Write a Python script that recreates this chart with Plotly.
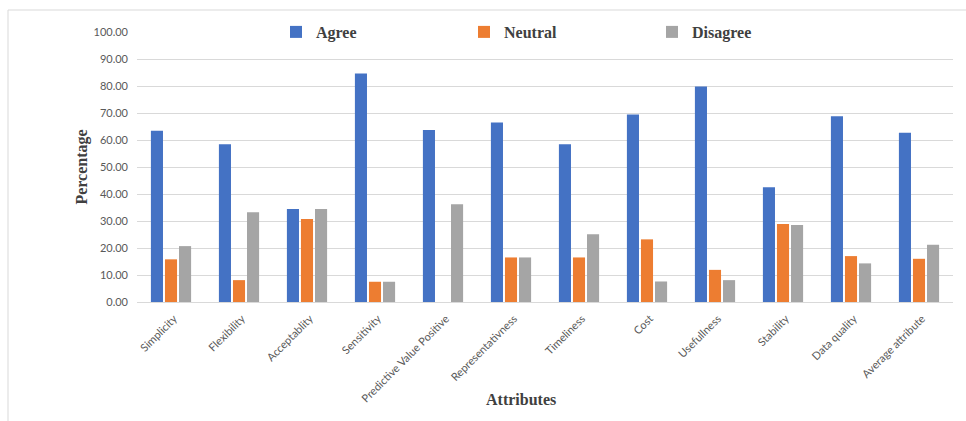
import plotly.graph_objects as go

categories = ["Simplicity", "Flexibility", "Acceptablity", "Sensitivity",
              "Predictive Value Positive", "Representativness", "Timeliness",
              "Cost", "Usefullness", "Stability", "Data quality", "Average attribute"]
agree = [63.4, 58.4, 34.4, 84.6, 63.7, 66.5, 58.4, 69.4, 79.8, 42.5, 68.8, 62.7]
neutral = [15.8, 8.1, 30.7, 7.5, 0.0, 16.5, 16.5, 23.2, 11.9, 28.9, 17.0, 16.0]
disagree = [20.7, 33.2, 34.4, 7.5, 36.2, 16.5, 25.1, 7.6, 8.1, 28.5, 14.3, 21.2]
y_ticks = [0, 10, 20, 30, 40, 50, 60, 70, 80, 90, 100]

colors = {"Agree": "#4472C4", "Neutral": "#ED7D31", "Disagree": "#A5A5A5"}

fig = go.Figure()
for name, vals in [("Agree", agree), ("Neutral", neutral), ("Disagree", disagree)]:
    fig.add_trace(go.Bar(x=categories, y=vals, name=name,
                         marker=dict(color=colors[name], line=dict(width=0))))

W, H = 966, 421
L, R, T, B = 137, 13, 32, 119
pw, ph = W - L - R, H - T - B

def px(x):
    return (x - L) / pw

def py(y):
    return (H - B - y) / ph

serif_bold = dict(family="Liberation Serif, serif", size=16, color="#404040", weight="bold")

fig.update_layout(
    width=W, height=H,
    margin=dict(l=L, r=R, t=T, b=B),
    paper_bgcolor="white", plot_bgcolor="white",
    barmode="group", bargap=0.38, bargroupgap=0.14,
    font=dict(family="Lato, sans-serif", color="#595959"),
    legend=dict(orientation="h", x=px(276), xanchor="left", y=1.0, yanchor="middle",
                bgcolor="rgba(0,0,0,0)", entrywidth=143, entrywidthmode="pixels",
                font=serif_bold, itemclick=False),
    xaxis=dict(tickangle=-45, tickfont=dict(size=11, color="#595959"),
               showgrid=False, showline=True, linecolor="#d9d9d9", linewidth=1,
               ticks="", automargin=False, ticklabelstandoff=5, ticklabelshift=3),
    yaxis=dict(range=[0, 100], tickvals=y_ticks,
               ticktext=[f"{v:.2f}" for v in y_ticks],
               tickfont=dict(size=11, color="#595959"),
               showgrid=True, gridcolor="#d9d9d9", gridwidth=1,
               zeroline=False, showline=False, ticks="", automargin=False,
               ticklabelstandoff=8,
               title=dict(text="Percentage", standoff=1, font=serif_bold)),
    annotations=[
        dict(text="Attributes", xref="paper", yref="paper", x=px(521), y=py(399),
             xanchor="center", yanchor="middle", showarrow=False, font=serif_bold),
    ],
    shapes=[
        dict(type="line", xref="paper", yref="paper", x0=px(8), x1=px(966),
             y0=py(10), y1=py(10), line=dict(color="#d9d9d9", width=1)),
        dict(type="line", xref="paper", yref="paper", x0=px(8), x1=px(8),
             y0=py(10), y1=py(421), line=dict(color="#d9d9d9", width=1)),
    ],
)

fig.write_html("out.html")
